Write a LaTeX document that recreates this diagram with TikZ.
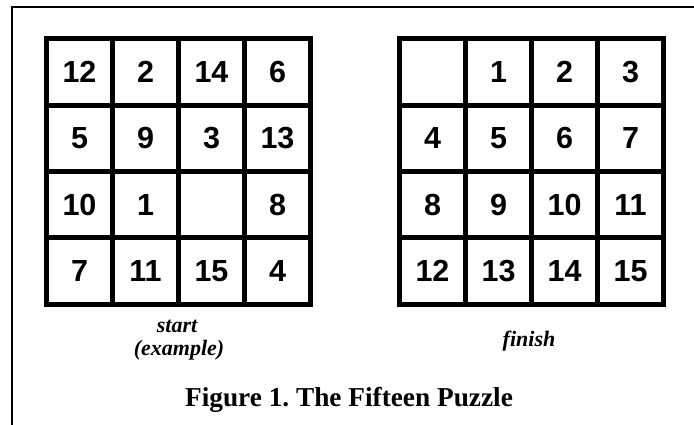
\documentclass[tikz,border=0pt]{standalone}
\usepackage{fontspec}
\setmainfont{Liberation Serif}
\newfontfamily\cellfont{Liberation Sans}
\frenchspacing
\begin{document}
\begin{tikzpicture}[x=1pt,y=-1pt,
  tile/.style={draw=black,line width=5pt,minimum width=66pt,minimum height=66.25pt,
    inner sep=0pt,outer sep=0pt,font=\cellfont\fontsize{30.5}{30}\selectfont\bfseries},
  lbl/.style={font=\fontsize{22}{26}\selectfont\bfseries\itshape,anchor=base,inner sep=0pt},
  figcap/.style={font=\fontsize{27.3}{30}\selectfont\bfseries,anchor=base,inner sep=0pt}]
\useasboundingbox (0,0) rectangle (694,425);
\draw[line width=2.3pt] (694,7) -- (12,7) -- (12,425);
% start grid
\foreach \r/\row in {1/{12,2,14,6},2/{5,9,3,13},3/{10,1,{},8},4/{7,11,15,4}}{
  \foreach \v [count=\c] in \row{
    \node[tile] (L\r\c) at ({46.5+33+66*(\c-1)},{39+33.125+66.25*(\r-1)}) {\v};
  }
}
% finish grid
\foreach \r/\row in {1/{{},1,2,3},2/{4,5,6,7},3/{8,9,10,11},4/{12,13,14,15}}{
  \foreach \v [count=\c] in \row{
    \node[tile] (R\r\c) at ({399.5+33+66*(\c-1)},{39+33.125+66.25*(\r-1)}) {\v};
  }
}
\node[lbl] (start) at (177,332) {start};
\node[lbl] (example) at (179,355) {(example)};
\node[lbl] (finish) at (529,346) {finish};
\node[figcap] (caption) at (349,406.5) {Figure 1. The Fifteen Puzzle};
\end{tikzpicture}
\end{document}
